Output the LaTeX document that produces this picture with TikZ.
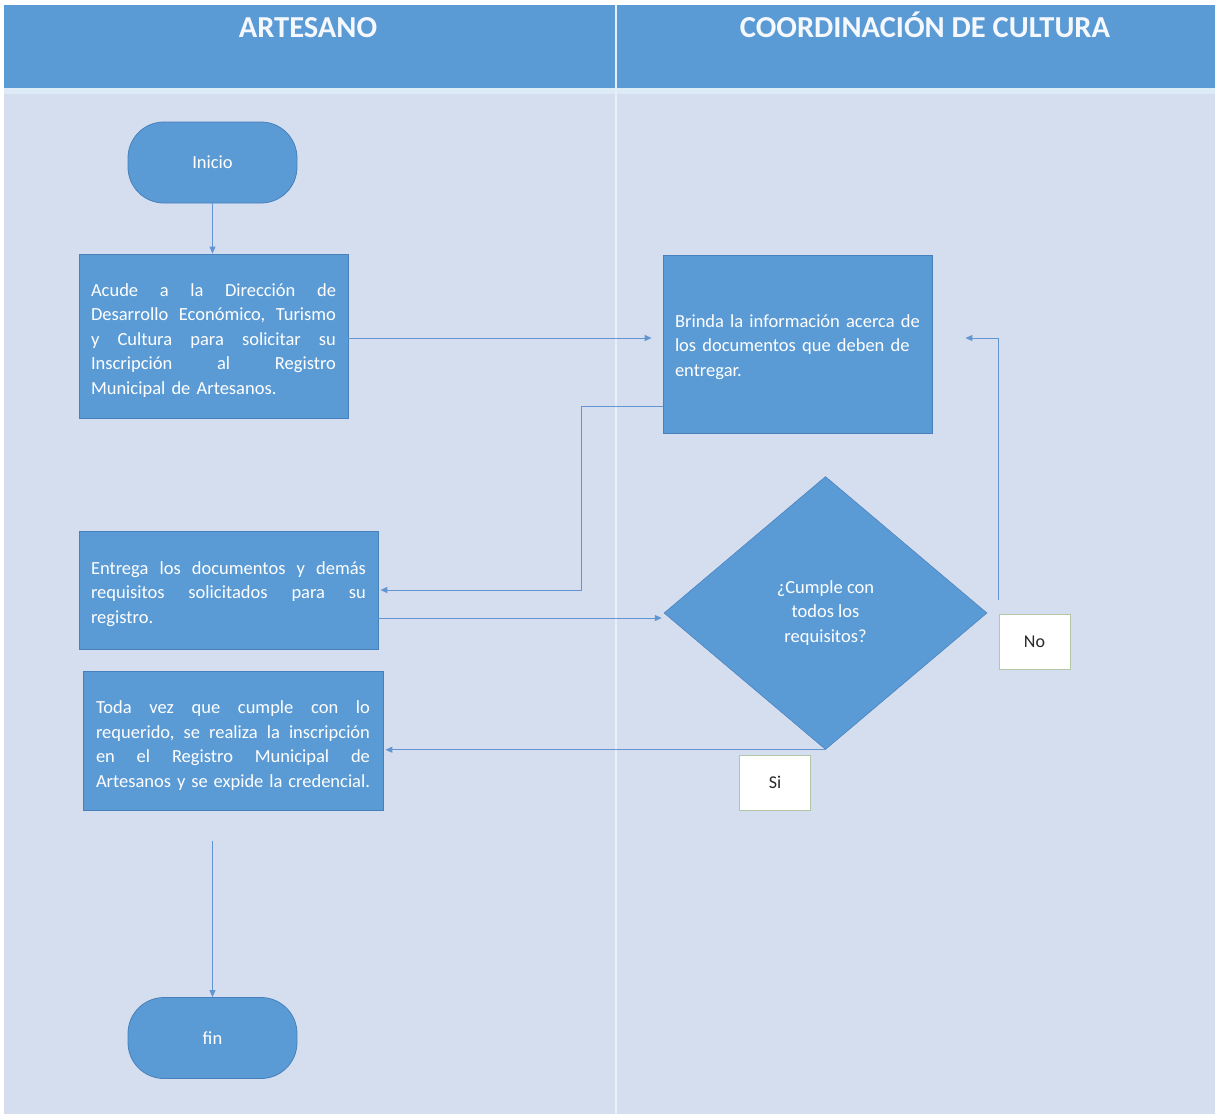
\documentclass[tikz,border=0pt]{standalone}
\usepackage{fontspec}
\setmainfont{Carlito}
\usetikzlibrary{arrows.meta,shapes.geometric,calc}
\definecolor{hdr}{RGB}{91,155,213}
\definecolor{bodybg}{RGB}{212,222,239}
\definecolor{stripe}{RGB}{221,235,247}
\definecolor{boxfill}{RGB}{91,155,213}
\definecolor{boxedge}{RGB}{72,128,188}
\definecolor{conn}{RGB}{98,150,210}
\definecolor{lbledge}{RGB}{178,200,165}
\newcommand{\jl}[2]{\leavevmode\hbox to #1{#2}}
\newcommand{\topstrut}[1]{\rule{0pt}{#1}}
\begin{document}
\begin{tikzpicture}[x=1pt,y=-1pt,
  proc/.style={rectangle,fill=boxfill,draw=boxedge,line width=0.8pt,text=white,
     font=\fontsize{18.5}{24.5}\selectfont,align=left,inner sep=0pt},
  term/.style={rectangle,rounded corners=36pt,fill=boxfill,draw=boxedge,line width=0.8pt,
     text=white,font=\fontsize{18.5}{24.5}\selectfont,minimum width=169pt,minimum height=81pt,inner sep=0pt},
  decis/.style={diamond,fill=boxfill,draw=boxedge,line width=0.5pt,text=white,
     font=\fontsize{18.5}{24.5}\selectfont,align=center,minimum width=323pt,minimum height=273pt,inner sep=0pt},
  lbl/.style={rectangle,fill=white,draw=lbledge,line width=0.8pt,text={rgb,255:red,40;green,40;blue,40},
     font=\fontsize{18}{22}\selectfont,minimum width=71pt,minimum height=55pt,inner sep=0pt},
  hdrtxt/.style={anchor=base,text={rgb,255:red,245;green,248;blue,252},font=\fontsize{30.5}{34}\selectfont\bfseries},
  conn/.style={draw=conn,line width=1pt,-{Triangle[length=7pt,width=6pt]}}
]
% background
\fill[white] (0,0) rectangle (1215,1114);
\fill[hdr] (4,5) rectangle (1215,88);
\fill[stripe] (4,88) rectangle (1215,94);
\fill[bodybg] (4,94) rectangle (1215,1114);
\draw[draw={rgb,255:red,232;green,239;blue,248},line width=1.2pt] (616,5) -- (616,1114);
\node[hdrtxt] (h1) at (308,37) {ARTESANO};
\node[hdrtxt] (h2) at (925,37) {COORDINACIÓN DE CULTURA};

% nodes
\node[term] (ini) at (212.5,162.5) {Inicio};
\node[proc,minimum width=269pt,minimum height=164pt,text width=245pt] (b1) at (213.5,336)
 {\jl{245pt}{\topstrut{21pt}Acude\hfill a\hfill la\hfill Dirección\hfill de}\\
  \jl{245pt}{Desarrollo\hfill Económico,\hfill Turismo}\\
  \jl{245pt}{y\hfill Cultura\hfill para\hfill solicitar\hfill su}\\
  \jl{245pt}{Inscripción\hfill al\hfill Registro}\\
  Municipal de Artesanos.};
\node[proc,minimum width=269pt,minimum height=178pt,text width=245pt] (b2) at (797.5,344)
 {\topstrut{19pt}Brinda la información acerca de\\los documentos que deben de\\entregar.};
\node[proc,minimum width=299pt,minimum height=118pt,text width=275pt] (b3) at (228.5,590)
 {\jl{275pt}{\topstrut{21pt}Entrega\hfill los\hfill documentos\hfill y\hfill demás}\\
  \jl{275pt}{requisitos\hfill solicitados\hfill para\hfill su}\\
  registro.};
\node[decis] (dia) at (825.5,613) {¿Cumple con\\todos los\\requisitos?};
\node[proc,minimum width=300pt,minimum height=139pt,text width=274pt] (b4) at (233,741)
 {\jl{274pt}{\topstrut{22pt}Toda\hfill vez\hfill que\hfill cumple\hfill con\hfill lo}\\
  \jl{274pt}{requerido,\hfill se\hfill realiza\hfill la\hfill inscripción}\\
  \jl{274pt}{en\hfill el\hfill Registro\hfill Municipal\hfill de}\\
  \jl{274pt}{Artesanos\hfill y\hfill se\hfill expide\hfill la\hfill credencial.}};
\node[term] (fin) at (212.5,1038) {fin};
\node[lbl] (no) at (1034.5,642) {No};
\node[lbl] (si) at (775,782.5) {Si};

% connectors
\draw[conn] (ini.south) -- (ini.south |- b1.north);
\coordinate (a1) at ($(b1.east)+(0,2)$);
\coordinate (a2) at ($(a1 -| b2.west)+(-11,0)$);
\draw[conn] (a1) -- (a2);
\draw[conn] ($(b2.south west)+(0,-27)$) -- ++(-81,0) |- ($(b3.east)+(2,0)$);
\coordinate (c1) at ($(b3.east)+(0,28)$);
\coordinate (c2) at ($(c1 -| dia.west)+(-2,0)$);
\draw[conn] (c1) -- (c2);
\coordinate (nostart) at ($(dia.east)+(11,-13)$);
\coordinate (noend) at ($(b2.east)+(33,-6)$);
\draw[conn] (nostart) |- (noend);
\draw[conn] (dia.south) -- ($(dia.south -| b4.east)+(2,0)$);
\coordinate (finstart) at ($(b4.south)+(-20.5,30)$);
\draw[conn] (finstart) -- (finstart |- fin.north);
\end{tikzpicture}
\end{document}
